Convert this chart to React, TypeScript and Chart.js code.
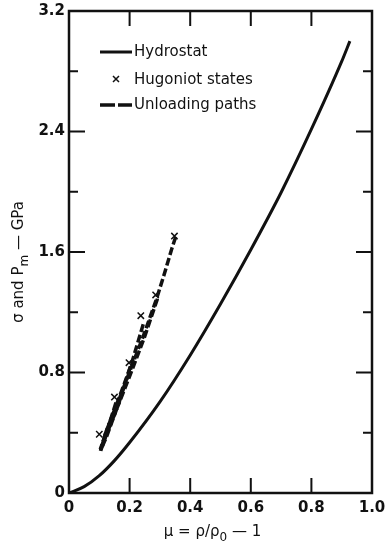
import React, { useEffect, useRef } from "react";
import { Chart, registerables } from "chart.js";

Chart.register(...registerables);

// Hydrostat: mean pressure vs. volumetric strain
const hydroMu = [0, 0.05, 0.1, 0.15, 0.2, 0.3, 0.4, 0.5, 0.6, 0.7, 0.8, 0.9, 0.927];
const hydroP = [0, 0.042, 0.115, 0.215, 0.335, 0.605, 0.915, 1.255, 1.615, 1.995, 2.415, 2.865, 3.0];

// Hugoniot states (stress)
const hugMu = [0.1, 0.15, 0.198, 0.237, 0.286, 0.348];
const hugSigma = [0.39, 0.637, 0.865, 1.177, 1.315, 1.706];

// Unloading paths, one from each of the higher Hugoniot states
const unloadAMu = [0.352, 0.339, 0.314, 0.289, 0.245, 0.201, 0.165, 0.146, 0.121, 0.104];
const unloadASigma = [1.7, 1.62, 1.45, 1.29, 1.04, 0.81, 0.62, 0.525, 0.4, 0.28];
const unloadBMu = [0.292, 0.25, 0.205, 0.168, 0.124, 0.106];
const unloadBSigma = [1.29, 1.04, 0.8, 0.61, 0.39, 0.29];
const unloadCMu = [0.245, 0.205, 0.165, 0.121, 0.104];
const unloadCSigma = [1.12, 0.85, 0.63, 0.4, 0.28];
const unloadDMu = [0.203, 0.165, 0.125, 0.106];
const unloadDSigma = [0.84, 0.6, 0.38, 0.29];
const unloadEMu = [0.155, 0.125, 0.103];
const unloadESigma = [0.6, 0.41, 0.29];

// Axis ranges and tick spacing
const xMin = 0, xMax = 1.0, xStep = 0.2;
const yMin = 0, yMax = 3.2, yStep = 0.4, yLabelStep = 0.8;

const legendLabels = ["Hydrostat", "Hugoniot states", "Unloading paths"];
const xTitleParts = ["\u03bc = \u03c1/\u03c1", "0", " \u2014 1"];
const yTitleParts = ["\u03c3 and P", "m", " \u2014 GPa"];

const FONT = '"DejaVu Sans", "Liberation Sans", sans-serif';
const INK = "#111";

const pts = (xs: number[], ys: number[]) => xs.map((x, i) => ({ x, y: ys[i] }));

const isMultiple = (v: number, step: number) => Math.abs(v / step - Math.round(v / step)) < 1e-6;
const fmt = (v: number) => (Math.abs(v) < 1e-9 ? "0" : v.toFixed(1));

const framePlugin = {
  id: "frame",
  afterDraw(chart: any) {
    const { ctx, chartArea: a, scales } = chart;
    const xs = scales.x;
    const ys = scales.y;
    ctx.save();
    ctx.strokeStyle = INK;
    ctx.fillStyle = INK;
    ctx.lineCap = "butt";

    // frame
    ctx.lineWidth = 2.5;
    ctx.strokeRect(a.left, a.top, a.right - a.left, a.bottom - a.top);

    // inward ticks on all four sides
    ctx.lineWidth = 2;
    ys.ticks.forEach((t: any) => {
      const v = t.value;
      if (v <= yMin + 1e-9 || v >= yMax - 1e-9) return;
      const y = ys.getPixelForValue(v);
      const len = isMultiple(v, yLabelStep) ? 16 : 9;
      ctx.beginPath();
      ctx.moveTo(a.left, y);
      ctx.lineTo(a.left + len, y);
      ctx.moveTo(a.right, y);
      ctx.lineTo(a.right - len, y);
      ctx.stroke();
    });
    xs.ticks.forEach((t: any) => {
      const v = t.value;
      if (v <= xMin + 1e-9 || v >= xMax - 1e-9) return;
      const x = xs.getPixelForValue(v);
      ctx.beginPath();
      ctx.moveTo(x, a.bottom);
      ctx.lineTo(x, a.bottom - 15);
      ctx.moveTo(x, a.top);
      ctx.lineTo(x, a.top + 15);
      ctx.stroke();
    });

    // legend
    const ds = chart.data.datasets;
    ctx.font = `15px ${FONT}`;
    ctx.textBaseline = "middle";
    ctx.textAlign = "left";
    const lx0 = 100, lx1 = 132, tx = 134;
    const rows = [52, 80, 105];

    ctx.lineWidth = ds[0].borderWidth;
    ctx.beginPath();
    ctx.moveTo(lx0, rows[0]);
    ctx.lineTo(lx1, rows[0]);
    ctx.stroke();
    ctx.fillText(legendLabels[0], tx, rows[0]);

    const cx = 116, cy = rows[1] - 1, r = 3;
    ctx.lineWidth = 1.5;
    ctx.beginPath();
    ctx.moveTo(cx - r, cy - r);
    ctx.lineTo(cx + r, cy + r);
    ctx.moveTo(cx + r, cy - r);
    ctx.lineTo(cx - r, cy + r);
    ctx.stroke();
    ctx.fillText(legendLabels[1], tx, rows[1]);

    ctx.lineWidth = 3.5;
    ctx.setLineDash([15, 3]);
    ctx.beginPath();
    ctx.moveTo(lx0, rows[2]);
    ctx.lineTo(lx1, rows[2]);
    ctx.stroke();
    ctx.setLineDash([]);
    ctx.fillText(legendLabels[2], tx, rows[2]);

    // x-axis title with subscript
    const main = `15px ${FONT}`;
    const sub = `12px ${FONT}`;
    ctx.textBaseline = "alphabetic";
    ctx.font = main;
    const w0 = ctx.measureText(xTitleParts[0]).width;
    const w2 = ctx.measureText(xTitleParts[2]).width;
    ctx.font = sub;
    const w1 = ctx.measureText(xTitleParts[1]).width;
    const xc = (a.left + a.right) / 2 - 8;
    let px = xc - (w0 + w1 + w2) / 2;
    const base = 536;
    ctx.font = main;
    ctx.fillText(xTitleParts[0], px, base);
    px += w0;
    ctx.font = sub;
    ctx.fillText(xTitleParts[1], px, base + 5);
    px += w1;
    ctx.font = main;
    ctx.fillText(xTitleParts[2], px, base);

    // y-axis title, rotated, with subscript
    ctx.save();
    ctx.translate(23, (a.top + a.bottom) / 2 + 10);
    ctx.rotate(-Math.PI / 2);
    ctx.font = main;
    const v0 = ctx.measureText(yTitleParts[0]).width;
    const v2 = ctx.measureText(yTitleParts[2]).width;
    ctx.font = sub;
    const v1 = ctx.measureText(yTitleParts[1]).width;
    let py = -(v0 + v1 + v2) / 2;
    ctx.font = main;
    ctx.fillText(yTitleParts[0], py, 0);
    py += v0;
    ctx.font = sub;
    ctx.fillText(yTitleParts[1], py, 5);
    py += v1;
    ctx.font = main;
    ctx.fillText(yTitleParts[2], py, 0);
    ctx.restore();

    ctx.restore();
  },
};

const unloadStyle = {
  type: "line" as const,
  showLine: true,
  borderColor: INK,
  borderWidth: 3.5,
  borderDash: [8, 3],
  pointRadius: 0,
  tension: 0,
  fill: false,
};

export default function App() {
  const ref = useRef<HTMLCanvasElement | null>(null);

  useEffect(() => {
    document.body.style.margin = "0";
    const canvas = ref.current;
    if (!canvas) return;
    const chart = new Chart(canvas, {
      type: "scatter",
      data: {
        datasets: [
          {
            type: "line",
            label: legendLabels[0],
            data: pts(hydroMu, hydroP),
            borderColor: INK,
            borderWidth: 3,
            pointRadius: 0,
            cubicInterpolationMode: "monotone",
            fill: false,
          },
          {
            label: legendLabels[1],
            data: pts(hugMu, hugSigma),
            showLine: false,
            pointStyle: "crossRot",
            pointRadius: 4.5,
            borderColor: INK,
            borderWidth: 1.5,
          },
          { ...unloadStyle, label: legendLabels[2], data: pts(unloadAMu, unloadASigma) },
          { ...unloadStyle, label: "B", data: pts(unloadBMu, unloadBSigma) },
          { ...unloadStyle, label: "C", data: pts(unloadCMu, unloadCSigma) },
          { ...unloadStyle, label: "D", data: pts(unloadDMu, unloadDSigma) },
          { ...unloadStyle, label: "E", data: pts(unloadEMu, unloadESigma) },
        ] as any,
      },
      options: {
        responsive: false,
        animation: false,
        layout: { padding: { top: 11, right: 13, left: 0, bottom: 0 } },
        plugins: {
          legend: { display: false },
          tooltip: { enabled: false },
        },
        scales: {
          x: {
            type: "linear",
            min: xMin,
            max: xMax,
            grid: { display: false, drawTicks: false },
            border: { display: false },
            ticks: {
              stepSize: xStep,
              padding: 6,
              color: INK,
              font: { family: FONT, size: 15, weight: "bold" },
              maxRotation: 0,
              callback: (v: any) => fmt(Number(v)),
            },
            afterFit: (s: any) => {
              s.height = 52;
              s.paddingLeft = 0;
              s.paddingRight = 0;
            },
          },
          y: {
            type: "linear",
            min: yMin,
            max: yMax,
            grid: { display: false, drawTicks: false },
            border: { display: false },
            ticks: {
              stepSize: yStep,
              padding: 4,
              color: INK,
              font: { family: FONT, size: 15, weight: "bold" },
              callback: (v: any) => (isMultiple(Number(v), yLabelStep) ? fmt(Number(v)) : ""),
            },
            afterFit: (s: any) => {
              s.width = 69;
              s.paddingTop = 0;
              s.paddingBottom = 0;
            },
          },
        },
      },
      plugins: [framePlugin],
    });
    return () => chart.destroy();
  }, []);

  return (
    <div style={{ width: 385, height: 545, background: "#fff" }}>
      <canvas ref={ref} width={385} height={545} />
    </div>
  );
}
